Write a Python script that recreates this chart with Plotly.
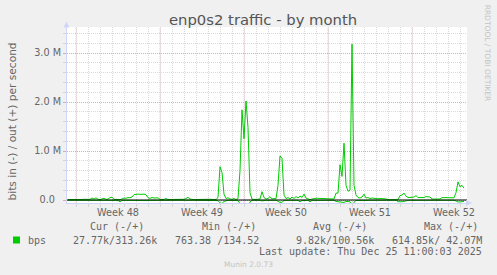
import pandas as pd
import plotly.graph_objects as go

# ---------------- data (Mbit/s, 4-hour samples) ----------------
sample_start = "2025-11-23 08:00"
sample_step = "4h"

out_mbps = [
    0.010, 0.008, 0.012, 0.010,
    0.010, 0.012, 0.008, 0.010, 0.015, 0.010,
    0.010, 0.012, 0.040, 0.020, 0.045, 0.015,
    0.010, 0.015, 0.035, 0.012, 0.020, 0.050,
    0.055, 0.015, 0.020, 0.010, 0.005, 0.030,
    0.040, 0.035, 0.050, 0.045, 0.060, 0.110,
    0.120, 0.120, 0.115, 0.120, 0.120, 0.110,
    0.045, 0.035, 0.050, 0.040, 0.050, 0.045,
    0.010, 0.008, 0.012, 0.030, 0.010, 0.010,
    0.010, 0.015, 0.008, 0.012, 0.020, 0.010,
    0.015, 0.030, 0.055, 0.020, 0.010, 0.008,
    0.010, 0.012, 0.010, 0.015, 0.008, 0.010,
    0.010, 0.015, 0.010, 0.012, 0.010, 0.050,
    0.680, 0.560, 0.120, 0.030, 0.045, 0.020,
    0.015, 0.030, 0.010, 0.030, 0.600, 1.840,
    1.250, 2.020, 1.480, 0.150, 0.020, 0.010,
    0.010, 0.015, 0.020, 0.170, 0.050, 0.020,
    0.030, 0.070, 0.020, 0.030, 0.025, 0.300,
    0.900, 0.850, 0.100, 0.030, 0.050, 0.020,
    0.060, 0.030, 0.070, 0.040, 0.080, 0.050,
    0.120, 0.040, 0.030, 0.005, 0.020, 0.035,
    0.035, 0.035, 0.035, 0.035, 0.035, 0.035,
    0.020, 0.020, 0.025, 0.020, 0.140, 0.140,
    0.720, 0.480, 1.160, 0.300, 0.180, 0.200,
    3.180, 0.300, 0.100, 0.050, 0.040, 0.060,
    0.120, 0.040, 0.050, 0.030, 0.040, 0.030,
    0.025, 0.025, 0.030, 0.020, 0.025, 0.020,
    0.005, 0.003, 0.005, 0.004, 0.003, 0.006,
    0.090, 0.100, 0.140, 0.080, 0.050, 0.050,
    0.050, 0.060, 0.090, 0.050, 0.050, 0.045,
    0.050, 0.070, 0.070, 0.060, 0.020, 0.020,
    0.020, 0.020, 0.020, 0.050, 0.050, 0.050,
    0.050, 0.055, 0.050, 0.045, 0.150, 0.370,
    0.270, 0.300, 0.240,
]

in_mbps = [
    0.004, 0.005, 0.004, 0.006,
    0.005, 0.004, 0.006, 0.005, 0.004, 0.005,
    0.005, 0.006, 0.010, 0.005, 0.008, 0.005,
    0.006, 0.005, 0.008, 0.005, 0.006, 0.010,
    0.008, 0.005, 0.006, 0.005, 0.040, 0.008,
    0.006, 0.008, 0.010, 0.006, 0.008, 0.012,
    0.015, 0.014, 0.015, 0.016, 0.015, 0.012,
    0.008, 0.007, 0.008, 0.006, 0.007, 0.006,
    0.004, 0.005, 0.004, 0.006, 0.004, 0.005,
    0.005, 0.004, 0.005, 0.004, 0.006, 0.005,
    0.004, 0.006, 0.010, 0.005, 0.004, 0.005,
    0.005, 0.004, 0.005, 0.006, 0.004, 0.005,
    0.005, 0.004, 0.006, 0.005, 0.005, 0.012,
    0.060, 0.070, 0.030, 0.010, 0.006, 0.008,
    0.005, 0.006, 0.004, 0.006, 0.080, 0.300,
    0.450, 0.615, 0.350, 0.040, 0.006, 0.005,
    0.005, 0.006, 0.005, 0.020, 0.008, 0.005,
    0.006, 0.010, 0.005, 0.006, 0.005, 0.030,
    0.050, 0.045, 0.010, 0.006, 0.008, 0.005,
    0.008, 0.006, 0.010, 0.006, 0.040, 0.008,
    0.012, 0.006, 0.005, 0.040, 0.005, 0.006,
    0.006, 0.006, 0.006, 0.006, 0.006, 0.006,
    0.005, 0.005, 0.005, 0.006, 0.030, 0.035,
    0.040, 0.035, 0.050, 0.030, 0.030, 0.035,
    0.120, 0.045, 0.010, 0.006, 0.006, 0.008,
    0.012, 0.006, 0.006, 0.005, 0.006, 0.005,
    0.004, 0.004, 0.005, 0.004, 0.004, 0.004,
    0.002, 0.002, 0.003, 0.002, 0.002, 0.035,
    0.040, 0.035, 0.030, 0.010, 0.006, 0.006,
    0.006, 0.008, 0.010, 0.006, 0.006, 0.005,
    0.006, 0.008, 0.008, 0.006, 0.004, 0.004,
    0.004, 0.004, 0.004, 0.006, 0.006, 0.006,
    0.006, 0.006, 0.006, 0.005, 0.020, 0.040,
    0.040, 0.035, 0.028,
]

x_range = ["2025-11-23 06:00", "2025-12-26 14:00"]
week_starts = ["2025-11-24", "2025-12-01", "2025-12-08", "2025-12-15", "2025-12-22"]
week_label_pos = ["2025-11-27 12:00", "2025-12-04 12:00", "2025-12-11 12:00",
                  "2025-12-18 12:00", "2025-12-25 12:00"]
week_labels = ["Week 48", "Week 49", "Week 50", "Week 51", "Week 52"]

y_tickvals = [0, 1e6, 2e6, 3e6]
y_ticktext = ["0.0\u00a0\u00a0", "1.0 M", "2.0 M", "3.0 M"]
y_range = [-0.0612e6, 3.5306e6]

title_text = "enp0s2 traffic - by month"
y_title = "bits in (-) / out (+) per second"
series_name = "bps"
legend_headers = ["Cur (-/+)", "Min (-/+)", "Avg (-/+)", "Max (-/+)"]
legend_values = ["27.77k/313.26k", "763.38 /134.52", "9.82k/100.56k", "614.85k/ 42.07M"]
last_update = "Last update: Thu Dec 25 11:00:03 2025"
watermark = "Munin 2.0.73"
side_text = "RRDTOOL / TOBI OETIKER"

# ---------------- styling ----------------
W, H = 497, 275
L, R, T, B = 67, 30, 27, 72
PW, PH = W - L - R, H - T - B
GREEN = "#00CC00"
FONT_C = "#666666"
AXIS_C = "#CFD6F8"
GRID_C = "rgba(204,204,204,0.75)"
MGRID_C = "rgba(230,128,128,0.5)"
SANS = "DejaVu Sans"
MONO = "DejaVu Sans Mono"


def fx(px):
    return (px - L) / PW


def fy(py):
    return (H - B - py) / PH


times = pd.date_range(sample_start, periods=len(out_mbps), freq=sample_step)

fig = go.Figure()
fig.add_trace(go.Scatter(x=times, y=[v * 1e6 for v in out_mbps], mode="lines",
                         line=dict(color=GREEN, width=1), hoverinfo="skip",
                         showlegend=False))
fig.add_trace(go.Scatter(x=times, y=[-v * 1e6 for v in in_mbps], mode="lines",
                         line=dict(color=GREEN, width=1), hoverinfo="skip",
                         showlegend=False))

shapes = []
for ws in week_starts:
    shapes.append(dict(type="line", xref="x", yref="paper", x0=ws, x1=ws, y0=0, y1=1,
                       line=dict(color=MGRID_C, width=1, dash="1px,1px"), layer="between"))
shapes.append(dict(type="line", xref="paper", yref="y", x0=0, x1=1, y0=0, y1=0,
                   line=dict(color="#000000", width=1.2), layer="above"))
# axis arrows
shapes.append(dict(type="path", xref="paper", yref="paper",
                   path=f"M {fx(63.5)} {fy(27.5)} L {fx(66.5)} {fy(21.5)} L {fx(69.5)} {fy(27.5)} Z",
                   fillcolor=AXIS_C, line=dict(width=0)))
shapes.append(dict(type="path", xref="paper", yref="paper",
                   path=f"M {fx(466)} {fy(200)} L {fx(472)} {fy(203)} L {fx(466)} {fy(206)} Z",
                   fillcolor=AXIS_C, line=dict(width=0)))
# legend colour box
shapes.append(dict(type="rect", xref="paper", yref="paper",
                   x0=fx(13), x1=fx(20), y0=fy(243.5), y1=fy(236.5),
                   fillcolor=GREEN, line=dict(width=0)))

ann = []


def add_text(text, px, py, size, color=FONT_C, family=SANS, xanchor="left", angle=0):
    ann.append(dict(text=text, xref="paper", yref="paper", x=fx(px), y=fy(py),
                    xanchor=xanchor, yanchor="middle", showarrow=False, textangle=angle,
                    borderpad=0, font=dict(family=family, size=size, color=color)))


add_text(title_text, 263, 19.5, 14.8, color="#555555", xanchor="center")
add_text(y_title, 12, 121.5, 10.6, xanchor="center", angle=-90)
add_text(side_text, 487.7, 53.4, 7.5, color="#C4C4C4", xanchor="center", angle=90)

header_x = [89, 201, 312, 423]
for h, hx in zip(legend_headers, header_x):
    add_text(h, hx, 226.7, 10, family=MONO)
add_text(series_name, 27, 240, 10, family=MONO)
value_x = [72, 174, 295, 391]
for v, vx in zip(legend_values, value_x):
    add_text(v, vx, 240, 10, family=MONO)
add_text(last_update, 483, 251.7, 10, family=MONO, xanchor="right")
add_text(watermark, 248, 264, 7.5, color="#C4C4C4", xanchor="center")

fig.update_layout(
    width=W, height=H, autosize=False,
    margin=dict(l=L, r=R, t=T, b=B, pad=0),
    paper_bgcolor="#F0F0F0", plot_bgcolor="#FFFFFF",
    showlegend=False,
    shapes=shapes, annotations=ann,
    xaxis=dict(
        type="date", range=x_range, fixedrange=True,
        tickmode="array", tickvals=week_label_pos, ticktext=week_labels,
        ticks="", showgrid=False, zeroline=False,
        showline=True, linecolor=AXIS_C, linewidth=1,
        tickfont=dict(family=SANS, size=9.7, color=FONT_C),
        minor=dict(tickmode="linear", tick0="2025-11-24", dtick=86400000,
                   showgrid=True, gridcolor=GRID_C, griddash="1px,1px", gridwidth=1,
                   ticks="outside", ticklen=3, tickcolor=GRID_C),
    ),
    yaxis=dict(
        range=y_range, fixedrange=True,
        tickmode="array", tickvals=y_tickvals, ticktext=y_ticktext,
        ticks="outside", ticklen=3, tickcolor=MGRID_C,
        showgrid=True, gridcolor=MGRID_C, griddash="1px,1px", gridwidth=1,
        zeroline=False,
        showline=True, linecolor=AXIS_C, linewidth=1,
        tickfont=dict(family=SANS, size=9.7, color=FONT_C),
        minor=dict(tickmode="linear", tick0=0, dtick=0.2e6,
                   showgrid=True, gridcolor=GRID_C, griddash="1px,1px", gridwidth=1,
                   ticks="outside", ticklen=3, tickcolor=GRID_C),
    ),
)

fig.write_html("out.html")
